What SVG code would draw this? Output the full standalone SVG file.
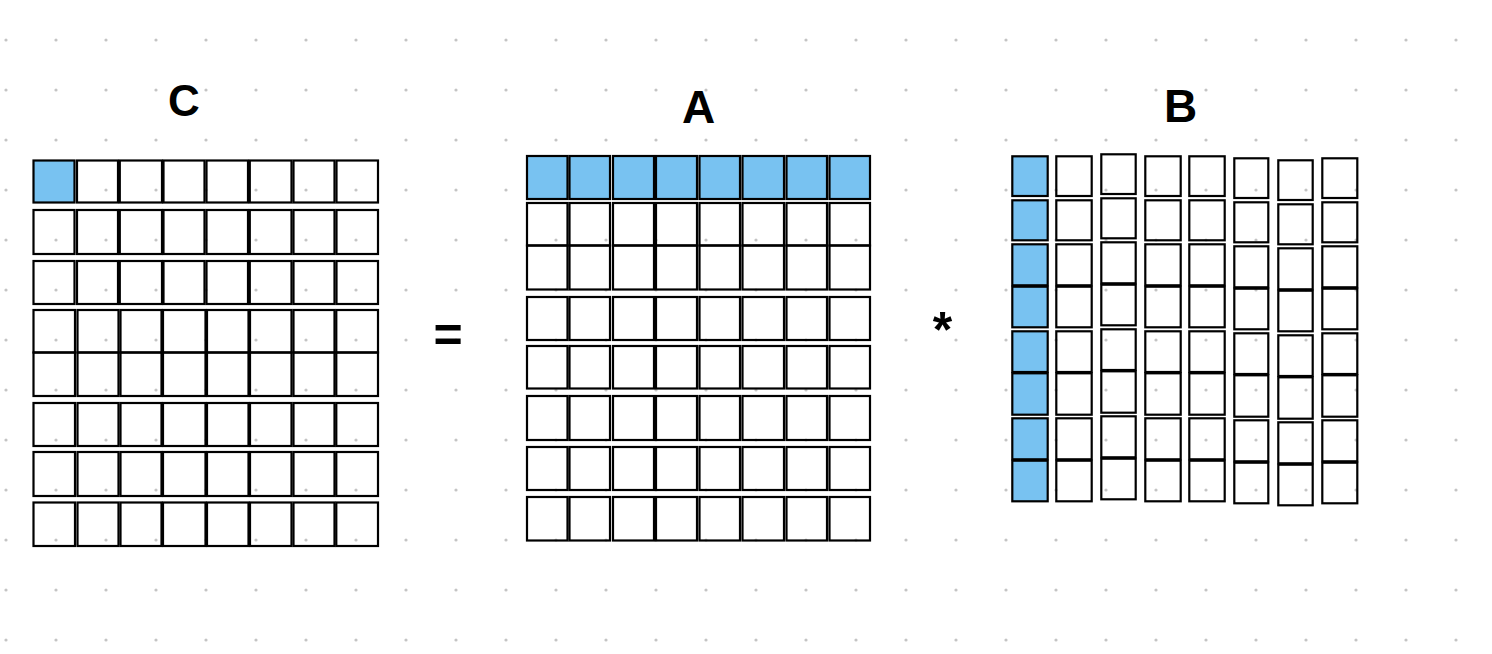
<svg xmlns="http://www.w3.org/2000/svg" width="1492" height="654" viewBox="0 0 1492 654">
<style>
.c{fill:none;stroke:#000;stroke-width:2.2}
.h{fill:#78c2f1;stroke:#000;stroke-width:2.2}
.t{font-family:"Liberation Sans",Arial,sans-serif;font-weight:bold;fill:#000;text-anchor:middle}
</style>
<defs>
<pattern id="dots" width="50" height="50" patternUnits="userSpaceOnUse" x="-19" y="15">
<circle cx="25" cy="25" r="1.6" fill="#c4c4c4"/>
</pattern>
</defs>
<rect width="1492" height="654" fill="#fff"/>
<rect width="1492" height="654" fill="url(#dots)"/>

<g id="matrix-C">
<text class="t" x="184" y="116" font-size="44">C</text>
<!-- rows 1-3 -->
<rect class="h" x="33.5" y="160.5" width="41" height="42"/>
<rect class="c" x="77" y="160.5" width="41" height="42"/>
<rect class="c" x="119.8" y="160.5" width="42.2" height="42"/>
<rect class="c" x="163.5" y="160.5" width="41" height="42"/>
<rect class="c" x="206.5" y="160.5" width="41.5" height="42"/>
<rect class="c" x="249.8" y="160.5" width="41.7" height="42"/>
<rect class="c" x="293.5" y="160.5" width="41" height="42"/>
<rect class="c" x="336.5" y="160.5" width="41.5" height="42"/>

<rect class="c" x="33.5" y="210" width="41" height="44"/>
<rect class="c" x="77" y="210" width="41" height="44"/>
<rect class="c" x="119.8" y="210" width="42.2" height="44"/>
<rect class="c" x="163.5" y="210" width="41" height="44"/>
<rect class="c" x="206.5" y="210" width="41.5" height="44"/>
<rect class="c" x="249.8" y="210" width="41.7" height="44"/>
<rect class="c" x="293.5" y="210" width="41" height="44"/>
<rect class="c" x="336.5" y="210" width="41.5" height="44"/>

<rect class="c" x="33.5" y="261" width="41" height="43"/>
<rect class="c" x="77" y="261" width="41" height="43"/>
<rect class="c" x="119.8" y="261" width="42.2" height="43"/>
<rect class="c" x="163.5" y="261" width="41" height="43"/>
<rect class="c" x="206.5" y="261" width="41.5" height="43"/>
<rect class="c" x="249.8" y="261" width="41.7" height="43"/>
<rect class="c" x="293.5" y="261" width="41" height="43"/>
<rect class="c" x="336.5" y="261" width="41.5" height="43"/>
<!-- rows 4-8 -->
<rect class="c" x="33.5" y="310" width="41.5" height="42.5"/>
<rect class="c" x="77.5" y="310" width="41" height="42.5"/>
<rect class="c" x="120.5" y="310" width="41" height="42.5"/>
<rect class="c" x="163" y="310" width="42.5" height="42.5"/>
<rect class="c" x="207" y="310" width="41.5" height="42.5"/>
<rect class="c" x="250" y="310" width="41.5" height="42.5"/>
<rect class="c" x="293.5" y="310" width="41" height="42.5"/>
<rect class="c" x="336.3" y="310" width="41.7" height="42.5"/>

<rect class="c" x="33.5" y="352.5" width="41.5" height="43.5"/>
<rect class="c" x="77.5" y="352.5" width="41" height="43.5"/>
<rect class="c" x="120.5" y="352.5" width="41" height="43.5"/>
<rect class="c" x="163" y="352.5" width="42.5" height="43.5"/>
<rect class="c" x="207" y="352.5" width="41.5" height="43.5"/>
<rect class="c" x="250" y="352.5" width="41.5" height="43.5"/>
<rect class="c" x="293.5" y="352.5" width="41" height="43.5"/>
<rect class="c" x="336.3" y="352.5" width="41.7" height="43.5"/>

<rect class="c" x="33.5" y="403" width="41.5" height="43"/>
<rect class="c" x="77.5" y="403" width="41" height="43"/>
<rect class="c" x="120.5" y="403" width="41" height="43"/>
<rect class="c" x="163" y="403" width="42.5" height="43"/>
<rect class="c" x="207" y="403" width="41.5" height="43"/>
<rect class="c" x="250" y="403" width="41.5" height="43"/>
<rect class="c" x="293.5" y="403" width="41" height="43"/>
<rect class="c" x="336.3" y="403" width="41.7" height="43"/>

<rect class="c" x="33.5" y="452" width="41.5" height="44"/>
<rect class="c" x="77.5" y="452" width="41" height="44"/>
<rect class="c" x="120.5" y="452" width="41" height="44"/>
<rect class="c" x="163" y="452" width="42.5" height="44"/>
<rect class="c" x="207" y="452" width="41.5" height="44"/>
<rect class="c" x="250" y="452" width="41.5" height="44"/>
<rect class="c" x="293.5" y="452" width="41" height="44"/>
<rect class="c" x="336.3" y="452" width="41.7" height="44"/>

<rect class="c" x="33.5" y="502.5" width="41.5" height="43.5"/>
<rect class="c" x="77.5" y="502.5" width="41" height="43.5"/>
<rect class="c" x="120.5" y="502.5" width="41" height="43.5"/>
<rect class="c" x="163" y="502.5" width="42.5" height="43.5"/>
<rect class="c" x="207" y="502.5" width="41.5" height="43.5"/>
<rect class="c" x="250" y="502.5" width="41.5" height="43.5"/>
<rect class="c" x="293.5" y="502.5" width="41" height="43.5"/>
<rect class="c" x="336.3" y="502.5" width="41.7" height="43.5"/>
</g>

<g id="op-equals">
<text class="t" x="448" y="352" font-size="50">=</text>
</g>

<g id="matrix-A">
<text class="t" x="698.5" y="122.5" font-size="46">A</text>
<rect class="h" x="527" y="156" width="40.5" height="43"/>
<rect class="h" x="569.5" y="156" width="40.5" height="43"/>
<rect class="h" x="613" y="156" width="41" height="43"/>
<rect class="h" x="656" y="156" width="41" height="43"/>
<rect class="h" x="699.5" y="156" width="40.5" height="43"/>
<rect class="h" x="742.5" y="156" width="41.5" height="43"/>
<rect class="h" x="786.5" y="156" width="40.5" height="43"/>
<rect class="h" x="829.5" y="156" width="40.5" height="43"/>

<rect class="c" x="527" y="203" width="40.5" height="42.5"/>
<rect class="c" x="569.5" y="203" width="40.5" height="42.5"/>
<rect class="c" x="613" y="203" width="41" height="42.5"/>
<rect class="c" x="656" y="203" width="41" height="42.5"/>
<rect class="c" x="699.5" y="203" width="40.5" height="42.5"/>
<rect class="c" x="742.5" y="203" width="41.5" height="42.5"/>
<rect class="c" x="786.5" y="203" width="40.5" height="42.5"/>
<rect class="c" x="829.5" y="203" width="40.5" height="42.5"/>

<rect class="c" x="527" y="245.5" width="40.5" height="44"/>
<rect class="c" x="569.5" y="245.5" width="40.5" height="44"/>
<rect class="c" x="613" y="245.5" width="41" height="44"/>
<rect class="c" x="656" y="245.5" width="41" height="44"/>
<rect class="c" x="699.5" y="245.5" width="40.5" height="44"/>
<rect class="c" x="742.5" y="245.5" width="41.5" height="44"/>
<rect class="c" x="786.5" y="245.5" width="40.5" height="44"/>
<rect class="c" x="829.5" y="245.5" width="40.5" height="44"/>

<rect class="c" x="527" y="297" width="40.5" height="43"/>
<rect class="c" x="569.5" y="297" width="40.5" height="43"/>
<rect class="c" x="613" y="297" width="41" height="43"/>
<rect class="c" x="656" y="297" width="41" height="43"/>
<rect class="c" x="699.5" y="297" width="40.5" height="43"/>
<rect class="c" x="742.5" y="297" width="41.5" height="43"/>
<rect class="c" x="786.5" y="297" width="40.5" height="43"/>
<rect class="c" x="829.5" y="297" width="40.5" height="43"/>

<rect class="c" x="527" y="346" width="40.5" height="42.5"/>
<rect class="c" x="569.5" y="346" width="40.5" height="42.5"/>
<rect class="c" x="613" y="346" width="41" height="42.5"/>
<rect class="c" x="656" y="346" width="41" height="42.5"/>
<rect class="c" x="699.5" y="346" width="40.5" height="42.5"/>
<rect class="c" x="742.5" y="346" width="41.5" height="42.5"/>
<rect class="c" x="786.5" y="346" width="40.5" height="42.5"/>
<rect class="c" x="829.5" y="346" width="40.5" height="42.5"/>

<rect class="c" x="527" y="396" width="40.5" height="44"/>
<rect class="c" x="569.5" y="396" width="40.5" height="44"/>
<rect class="c" x="613" y="396" width="41" height="44"/>
<rect class="c" x="656" y="396" width="41" height="44"/>
<rect class="c" x="699.5" y="396" width="40.5" height="44"/>
<rect class="c" x="742.5" y="396" width="41.5" height="44"/>
<rect class="c" x="786.5" y="396" width="40.5" height="44"/>
<rect class="c" x="829.5" y="396" width="40.5" height="44"/>

<rect class="c" x="527" y="447" width="40.5" height="43"/>
<rect class="c" x="569.5" y="447" width="40.5" height="43"/>
<rect class="c" x="613" y="447" width="41" height="43"/>
<rect class="c" x="656" y="447" width="41" height="43"/>
<rect class="c" x="699.5" y="447" width="40.5" height="43"/>
<rect class="c" x="742.5" y="447" width="41.5" height="43"/>
<rect class="c" x="786.5" y="447" width="40.5" height="43"/>
<rect class="c" x="829.5" y="447" width="40.5" height="43"/>

<rect class="c" x="527" y="497" width="40.5" height="43.5"/>
<rect class="c" x="569.5" y="497" width="40.5" height="43.5"/>
<rect class="c" x="613" y="497" width="41" height="43.5"/>
<rect class="c" x="656" y="497" width="41" height="43.5"/>
<rect class="c" x="699.5" y="497" width="40.5" height="43.5"/>
<rect class="c" x="742.5" y="497" width="41.5" height="43.5"/>
<rect class="c" x="786.5" y="497" width="40.5" height="43.5"/>
<rect class="c" x="829.5" y="497" width="40.5" height="43.5"/>
</g>

<g id="op-times">
<text class="t" x="942.5" y="347" font-size="50">*</text>
</g>

<g id="matrix-B">
<text class="t" x="1180.7" y="122.3" font-size="46">B</text>
<g id="B-col1" transform="translate(1012.3,0)">
<rect class="h" x="0" y="156.3" width="35.4" height="39.7"/>
<rect class="h" x="0" y="200.3" width="35.4" height="40"/>
<rect class="h" x="0" y="244.3" width="35.4" height="41"/>
<rect class="h" x="0" y="286.7" width="35.4" height="40.6"/>
<rect class="h" x="0" y="331.3" width="35.4" height="40.7"/>
<rect class="h" x="0" y="373.3" width="35.4" height="41.4"/>
<rect class="h" x="0" y="418.3" width="35.4" height="41"/>
<rect class="h" x="0" y="460.7" width="35.4" height="40.6"/>
</g>
<g id="B-col2" transform="translate(1056.3,0)">
<rect class="c" x="0" y="156.3" width="35.4" height="39.7"/>
<rect class="c" x="0" y="200.3" width="35.4" height="40"/>
<rect class="c" x="0" y="244.3" width="35.4" height="41"/>
<rect class="c" x="0" y="286.7" width="35.4" height="40.6"/>
<rect class="c" x="0" y="331.3" width="35.4" height="40.7"/>
<rect class="c" x="0" y="373.3" width="35.4" height="41.4"/>
<rect class="c" x="0" y="418.3" width="35.4" height="41"/>
<rect class="c" x="0" y="460.7" width="35.4" height="40.6"/>
</g>
<g id="B-col3" transform="translate(1101.3,-2)">
<rect class="c" x="0" y="156.3" width="34.4" height="39.7"/>
<rect class="c" x="0" y="200.3" width="34.4" height="40"/>
<rect class="c" x="0" y="244.3" width="34.4" height="41"/>
<rect class="c" x="0" y="286.7" width="34.4" height="40.6"/>
<rect class="c" x="0" y="331.3" width="34.4" height="40.7"/>
<rect class="c" x="0" y="373.3" width="34.4" height="41.4"/>
<rect class="c" x="0" y="418.3" width="34.4" height="41"/>
<rect class="c" x="0" y="460.7" width="34.4" height="40.6"/>
</g>
<g id="B-col4" transform="translate(1145.3,0)">
<rect class="c" x="0" y="156.3" width="35.4" height="39.7"/>
<rect class="c" x="0" y="200.3" width="35.4" height="40"/>
<rect class="c" x="0" y="244.3" width="35.4" height="41"/>
<rect class="c" x="0" y="286.7" width="35.4" height="40.6"/>
<rect class="c" x="0" y="331.3" width="35.4" height="40.7"/>
<rect class="c" x="0" y="373.3" width="35.4" height="41.4"/>
<rect class="c" x="0" y="418.3" width="35.4" height="41"/>
<rect class="c" x="0" y="460.7" width="35.4" height="40.6"/>
</g>
<g id="B-col5" transform="translate(1189.3,0)">
<rect class="c" x="0" y="156.3" width="35.4" height="39.7"/>
<rect class="c" x="0" y="200.3" width="35.4" height="40"/>
<rect class="c" x="0" y="244.3" width="35.4" height="41"/>
<rect class="c" x="0" y="286.7" width="35.4" height="40.6"/>
<rect class="c" x="0" y="331.3" width="35.4" height="40.7"/>
<rect class="c" x="0" y="373.3" width="35.4" height="41.4"/>
<rect class="c" x="0" y="418.3" width="35.4" height="41"/>
<rect class="c" x="0" y="460.7" width="35.4" height="40.6"/>
</g>
<g id="B-col6" transform="translate(1234.3,2)">
<rect class="c" x="0" y="156.3" width="34" height="39.7"/>
<rect class="c" x="0" y="200.3" width="34" height="40"/>
<rect class="c" x="0" y="244.3" width="34" height="41"/>
<rect class="c" x="0" y="286.7" width="34" height="40.6"/>
<rect class="c" x="0" y="331.3" width="34" height="40.7"/>
<rect class="c" x="0" y="373.3" width="34" height="41.4"/>
<rect class="c" x="0" y="418.3" width="34" height="41"/>
<rect class="c" x="0" y="460.7" width="34" height="40.6"/>
</g>
<g id="B-col7" transform="translate(1278.3,4)">
<rect class="c" x="0" y="156.3" width="34.4" height="39.7"/>
<rect class="c" x="0" y="200.3" width="34.4" height="40"/>
<rect class="c" x="0" y="244.3" width="34.4" height="41"/>
<rect class="c" x="0" y="286.7" width="34.4" height="40.6"/>
<rect class="c" x="0" y="331.3" width="34.4" height="40.7"/>
<rect class="c" x="0" y="373.3" width="34.4" height="41.4"/>
<rect class="c" x="0" y="418.3" width="34.4" height="41"/>
<rect class="c" x="0" y="460.7" width="34.4" height="40.6"/>
</g>
<g id="B-col8" transform="translate(1322.3,2)">
<rect class="c" x="0" y="156.3" width="35" height="39.7"/>
<rect class="c" x="0" y="200.3" width="35" height="40"/>
<rect class="c" x="0" y="244.3" width="35" height="41"/>
<rect class="c" x="0" y="286.7" width="35" height="40.6"/>
<rect class="c" x="0" y="331.3" width="35" height="40.7"/>
<rect class="c" x="0" y="373.3" width="35" height="41.4"/>
<rect class="c" x="0" y="418.3" width="35" height="41"/>
<rect class="c" x="0" y="460.7" width="35" height="40.6"/>
</g>
</g>

<g id="connectors"></g>
</svg>
